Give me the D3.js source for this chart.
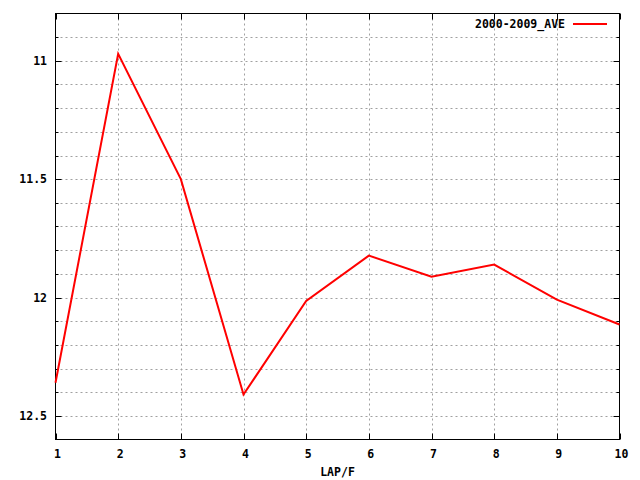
<!DOCTYPE html>
<html><head><meta charset="utf-8">
<script src="https://cdn.jsdelivr.net/npm/d3@7"></script>
<style>body{margin:0;background:#fff}svg{display:block}text{font-family:"DejaVu Sans Mono",monospace;font-weight:bold;font-size:11.5px;fill:#000}</style>
</head><body>
<script>
const laps = [1,2,3,4,5,6,7,8,9,10];
const ave = [12.36,10.97,11.5,12.41,12.015,11.823,11.912,11.861,12.009,12.114];
const yMajor = [11,11.5,12,12.5];
const yMinor = [10.9,11,11.1,11.2,11.3,11.4,11.5,11.6,11.7,11.8,11.9,12,12.1,12.2,12.3,12.4,12.5];
const seriesName = "2000-2009_AVE";
const xLabel = "LAP/F";

const W=640,H=480, L=55.5, R=619.5, T=13.5, B=439.5;
const svg = d3.select("body").append("svg").attr("width",W).attr("height",H);
const x = d3.scaleLinear().domain([1,10]).range([L,R]);
const y = d3.scaleLinear().domain([10.8,12.6]).range([T,B]);

const g = svg.append("g");
// grid
g.selectAll(".gy").data(yMinor).join("line")
 .attr("x1",L).attr("x2",R).attr("y1",d=>Math.round(y(d))+0.5).attr("y2",d=>Math.round(y(d))+0.5)
 .attr("stroke","#a0a0a0").attr("stroke-dasharray","2,3");
g.selectAll(".gx").data(laps.slice(1,-1)).join("line")
 .attr("y1",T).attr("y2",B).attr("x1",d=>Math.round(x(d))+0.5).attr("x2",d=>Math.round(x(d))+0.5)
 .attr("stroke","#a0a0a0").attr("stroke-dasharray","2,3");

// ticks (inward, mirrored)
const isMajor = d => yMajor.some(m=>Math.abs(m-d)<1e-6);
yMinor.forEach(d=>{
  const yy=Math.round(y(d))+0.5, len=isMajor(d)?6:3;
  g.append("line").attr("x1",L).attr("x2",L+len).attr("y1",yy).attr("y2",yy).attr("stroke","#000");
  g.append("line").attr("x1",R).attr("x2",R-len).attr("y1",yy).attr("y2",yy).attr("stroke","#000");
});
laps.forEach(d=>{
  const xx=Math.round(x(d))+0.5;
  g.append("line").attr("x1",xx).attr("x2",xx).attr("y1",B).attr("y2",B-6).attr("stroke","#000");
  g.append("line").attr("x1",xx).attr("x2",xx).attr("y1",T).attr("y2",T+6).attr("stroke","#000");
});
// labels
g.selectAll(".ly").data(yMajor).join("text")
 .attr("x",47).attr("y",d=>y(d)).attr("text-anchor","end").attr("dominant-baseline","central").text(d=>d);
g.selectAll(".lx").data(laps).join("text")
 .attr("x",d=>x(d)+2).attr("y",454).attr("text-anchor","middle").attr("dominant-baseline","central").text(d=>d);
svg.append("text").attr("x",(L+R)/2).attr("y",472).attr("text-anchor","middle").attr("dominant-baseline","central").text(xLabel);

// frame
svg.append("rect").attr("x",L).attr("y",T).attr("width",R-L).attr("height",B-T).attr("fill","none").attr("stroke","#000");

// line
const line = d3.line().x((d,i)=>x(laps[i])).y(d=>y(d));
svg.append("path").datum(ave).attr("d",line).attr("fill","none").attr("stroke","#ff0000").attr("stroke-width",2);

// legend
svg.append("text").attr("x",565).attr("y",24).attr("text-anchor","end").attr("dominant-baseline","central").text(seriesName);
svg.append("line").attr("x1",573).attr("x2",607).attr("y1",24).attr("y2",24).attr("stroke","#ff0000").attr("stroke-width",2);
</script>
</body></html>
